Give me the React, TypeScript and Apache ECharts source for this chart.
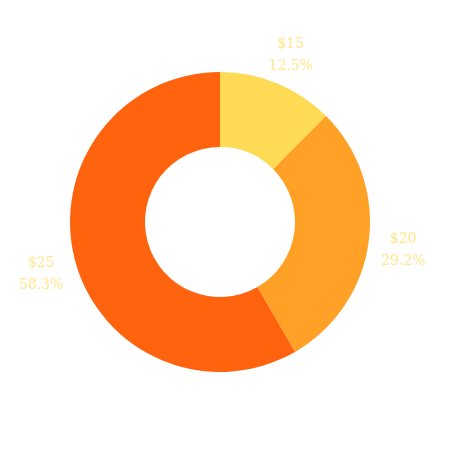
import React, { useEffect, useRef } from "react";
import * as echarts from "echarts";

const categories = ["$15", "$20", "$25"];
const values = [3, 7, 14];
const colors = ["#FFDB55", "#FFA126", "#FF630E"];

export default function App() {
  const ref = useRef<HTMLDivElement>(null);
  useEffect(() => {
    document.body.style.margin = "0";
    const chart = echarts.init(ref.current!, null, { renderer: "svg" });
    const total = values.reduce((a, b) => a + b, 0);
    chart.setOption({
      animation: false,
      backgroundColor: "#ffffff",
      series: [
        {
          type: "pie",
          center: [220, 222],
          radius: [75, 150],
          startAngle: 90,
          clockwise: true,
          avoidLabelOverlap: false,
          data: categories.map((c, i) => ({
            name: c,
            value: values[i],
            itemStyle: { color: colors[i] },
          })),
          label: {
            show: true,
            position: "outside",
            distanceToLabelLine: 0,
            formatter: (p: any) =>
              `${p.name}\n${((p.value / total) * 100).toFixed(1)}%`,
            color: "#FFE78C",
            fontFamily: "DejaVu Serif",
            fontSize: 14,
            lineHeight: 22,
            align: "center",
            verticalAlign: "middle",
          },
          labelLine: { show: false, length: 35, length2: 0 },
          labelLayout: { align: "center", verticalAlign: "middle", dy: 3 },
        },
      ],
    });
    return () => chart.dispose();
  }, []);
  return <div ref={ref} style={{ width: 450, height: 450 }} />;
}
